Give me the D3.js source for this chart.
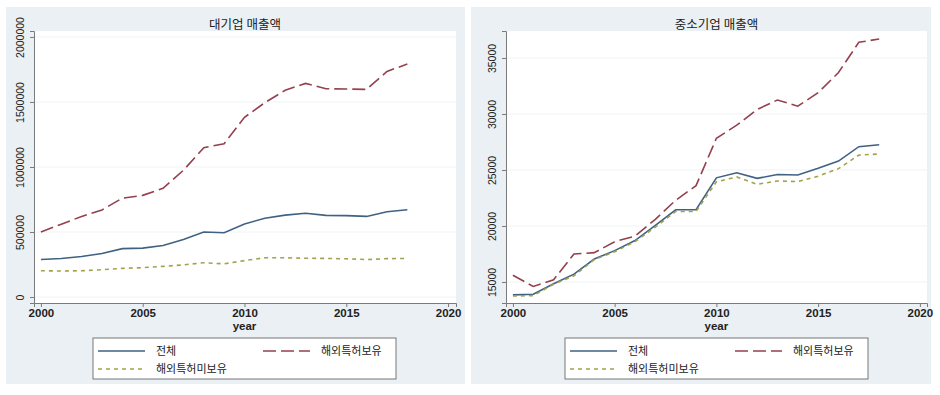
<!DOCTYPE html>
<html>
<head>
<meta charset="utf-8">
<script src="https://cdn.jsdelivr.net/npm/d3@7"></script>
<style>
  body { margin: 0; background: #fff; }
  svg { display: block; }
  text { font-family: "Liberation Sans", Arial, sans-serif; fill: #222; }
  .kr { font-family: "Noto Sans CJK KR", sans-serif; }
</style>
</head>
<body>
<div id="chart"></div>
<script>
// data
const years = [2000, 2001, 2002, 2003, 2004, 2005, 2006, 2007, 2008, 2009,
               2010, 2011, 2012, 2013, 2014, 2015, 2016, 2017, 2018];

// 대기업 매출액
const bigTotal  = [288000, 296000, 312000, 335000, 372000, 376000, 396000, 442000, 500000, 494000,
                   562000, 606000, 630000, 644000, 628000, 626000, 620000, 656000, 671000];
const bigPatent = [500000, 560000, 620000, 670000, 760000, 782000, 836000, 975000, 1148000, 1179000,
                   1382000, 1495000, 1590000, 1643000, 1602000, 1600000, 1597000, 1735000, 1792000];
const bigNoPat  = [202000, 200000, 202000, 210000, 220000, 226000, 236000, 247000, 264000, 255000,
                   280000, 302000, 302000, 298000, 297000, 294000, 288000, 295000, 297000];

// 중소기업 매출액
const smTotal   = [13850, 13900, 14850, 15700, 17050, 17800, 18700, 20050, 21450, 21450,
                   24300, 24750, 24250, 24600, 24550, 25150, 25800, 27080, 27250];
const smPatent  = [15600, 14600, 15200, 17500, 17620, 18600, 19100, 20600, 22300, 23600,
                   27830, 29000, 30400, 31250, 30700, 31900, 33700, 36400, 36700];
const smNoPat   = [13750, 13780, 14800, 15550, 17000, 17700, 18600, 19900, 21300, 21300,
                   23950, 24380, 23720, 24020, 23960, 24450, 25120, 26330, 26430];

const seriesNames = ["전체", "해외특허보유", "해외특허미보유"];
const xTicks = [2000, 2005, 2010, 2015, 2020];
const bigTicks = [0, 500000, 1000000, 1500000, 2000000];
const smTicks = [15000, 20000, 25000, 30000, 35000];

const colors = ["#3f6282", "#94404e", "#a2a24c"];
const dashes = [null, "13,5", "4,4"];

const svg = d3.select("#chart").append("svg")
    .attr("width", 940)
    .attr("height", 395);

function drawPanel(opt) {
    let g = svg.append("g");

    g.append("rect")
        .attr("x", opt.bx).attr("y", 7)
        .attr("width", opt.bw).attr("height", 377)
        .attr("fill", "#eaf0f3");

    let x = d3.scaleLinear().domain(opt.xDomain).range([opt.left, opt.right]);
    let y = d3.scaleLinear().domain(opt.yDomain).range([303, 31]);

    g.append("rect")
        .attr("x", opt.left).attr("y", 31)
        .attr("width", opt.right - opt.left).attr("height", 272)
        .attr("fill", "#fff");

    // grid
    g.selectAll(".grid").data(opt.yTicks).enter()
        .append("line")
        .attr("x1", opt.left).attr("x2", opt.right)
        .attr("y1", d => y(d)).attr("y2", d => y(d))
        .attr("stroke", "#eef2f4").attr("stroke-width", 1);

    g.append("text").attr("class", "kr")
        .attr("x", (opt.left + opt.right) / 2).attr("y", 29)
        .attr("text-anchor", "middle")
        .attr("font-size", 12.5)
        .text(opt.title);

    let yAxis = g.append("g")
        .attr("transform", `translate(${opt.left},0)`)
        .call(d3.axisLeft(y).tickValues(opt.yTicks).tickSize(4).tickPadding(3).tickFormat(d3.format("d")));
    yAxis.selectAll("text")
        .attr("font-size", 10.5)
        .attr("transform", "rotate(-90)")
        .attr("x", 0).attr("y", -10)
        .attr("dy", 0)
        .attr("text-anchor", "middle");

    let xAxis = g.append("g")
        .attr("transform", "translate(0,303)")
        .call(d3.axisBottom(x).tickValues(xTicks).tickSize(4).tickPadding(2).tickFormat(d3.format("d")));
    xAxis.selectAll("text").attr("font-size", 11.5).attr("font-weight", "bold").attr("fill", "#333");

    [yAxis, xAxis].forEach(a => {
        a.select(".domain").attr("stroke", "#7a7a7a");
        a.selectAll(".tick line").attr("stroke", "#7a7a7a");
        a.selectAll("text").style("font-family", "'Liberation Sans', Arial, sans-serif");
    });

    g.append("text")
        .attr("x", x(2010)).attr("y", 330)
        .attr("text-anchor", "middle")
        .attr("font-size", 11.5).attr("font-weight", "bold").attr("fill", "#333")
        .text("year");

    let line = d3.line().x((d, i) => x(years[i])).y(d => y(d));
    opt.series.forEach(function (s, i) {
        g.append("path")
            .datum(s)
            .attr("d", line)
            .attr("fill", "none")
            .attr("stroke", colors[i])
            .attr("stroke-width", 1.6)
            .attr("stroke-dasharray", dashes[i]);
    });

    // legend
    let lx = opt.legendX;
    g.append("rect")
        .attr("x", lx).attr("y", 338)
        .attr("width", 303).attr("height", 41)
        .attr("fill", "#fff").attr("stroke", "#777");

    let items = [[lx + 5, 351], [lx + 170, 351], [lx + 5, 369]];
    items.forEach(function (p, i) {
        g.append("line")
            .attr("x1", p[0]).attr("x2", p[0] + 47)
            .attr("y1", p[1]).attr("y2", p[1])
            .attr("stroke", colors[i]).attr("stroke-width", 1.5)
            .attr("stroke-dasharray", dashes[i]);
        g.append("text").attr("class", "kr")
            .attr("x", p[0] + 58).attr("y", p[1] + 4)
            .attr("font-size", 11).attr("fill", "#333")
            .text(seriesNames[i]);
    });
}

drawPanel({
    bx: 6, bw: 459, left: 34, right: 456,
    xDomain: [1999.66, 2020.39], yDomain: [-46000, 2046000],
    yTicks: bigTicks, title: "대기업 매출액",
    series: [bigTotal, bigPatent, bigNoPat], legendX: 93
});

drawPanel({
    bx: 471, bw: 460, left: 506, right: 927,
    xDomain: [1999.66, 2020.35], yDomain: [13125, 37410],
    yTicks: smTicks, title: "중소기업 매출액",
    series: [smTotal, smPatent, smNoPat], legendX: 565
});
</script>
</body>
</html>
